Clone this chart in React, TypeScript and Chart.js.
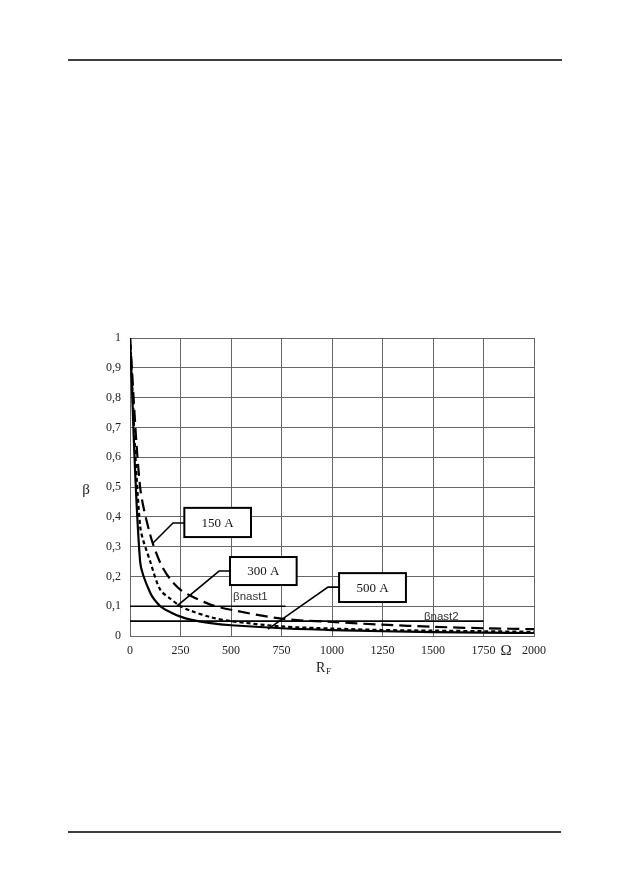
import React, { useEffect, useRef } from "react";
import { Chart, registerables } from "chart.js";

Chart.register(...registerables);

// Resistance R_F (Ω) sample points
const resistance = [0, 50, 100, 150, 200, 250, 300, 400, 500, 750, 1000, 1250, 1500, 1750, 2000];
// β for 150 A (long dashed)
const beta150 = [1, 0.5, 0.34, 0.245, 0.19, 0.155, 0.135, 0.105, 0.088, 0.058, 0.047, 0.038, 0.031, 0.026, 0.023];
// β for 300 A (short dashed)
const beta300 = [1, 0.37, 0.25, 0.155, 0.125, 0.1, 0.085, 0.063, 0.05, 0.032, 0.025, 0.02, 0.018, 0.016, 0.014];
// β for 500 A (solid)
const beta500 = [1, 0.25, 0.145, 0.1, 0.08, 0.065, 0.055, 0.043, 0.036, 0.026, 0.02, 0.016, 0.013, 0.011, 0.01];
// threshold lines
const nast1R = [0, 770];
const nast1 = [0.1, 0.1];
const nast2R = [0, 1750];
const nast2 = [0.05, 0.05];

const xTicks = [0, 250, 500, 750, 1000, 1250, 1500, 1750, 2000];
const yTicks = [0, 0.1, 0.2, 0.3, 0.4, 0.5, 0.6, 0.7, 0.8, 0.9, 1];

// Callouts in data units
const callouts = [
  { text: "150 A", box: [269, 599, 0.332, 0.43], lead: 0.379, elbow: 213, tip: [114, 0.312] },
  { text: "300 A", box: [495, 825, 0.171, 0.265], lead: 0.218, elbow: 441, tip: [233, 0.101] },
  { text: "500 A", box: [1035, 1366, 0.114, 0.211], lead: 0.164, elbow: 980, tip: [683, 0.023] },
];
const nastLabels = [
  { text: "βnast1", r: 510, b: 0.131 },
  { text: "βnast2", r: 1455, b: 0.064 },
];

const pts = (xs: number[], ys: number[]) => xs.map((x, i) => ({ x, y: ys[i] }));

const SERIF = "'Liberation Serif', 'Times New Roman', serif";
const SANS = "'Liberation Sans', Arial, sans-serif";

const decor = {
  id: "decor",
  afterDatasetsDraw(chart: any) {
    const ctx = chart.ctx as CanvasRenderingContext2D;
    const xs = chart.scales.x;
    const ys = chart.scales.y;
    const px = (v: number) => xs.getPixelForValue(v);
    const py = (v: number) => ys.getPixelForValue(v);
    ctx.save();
    ctx.fillStyle = "#333";
    ctx.font = `11.5px ${SANS}`;
    ctx.textAlign = "left";
    ctx.textBaseline = "middle";
    nastLabels.forEach((l) => ctx.fillText(l.text, px(l.r), py(l.b)));
    callouts.forEach((c) => {
      const x1 = px(c.box[0]);
      const x2 = px(c.box[1]);
      const y1 = py(c.box[3]);
      const y2 = py(c.box[2]);
      ctx.strokeStyle = "#000";
      ctx.lineWidth = 1.6;
      ctx.beginPath();
      ctx.moveTo(x1, py(c.lead));
      ctx.lineTo(px(c.elbow), py(c.lead));
      ctx.lineTo(px(c.tip[0]), py(c.tip[1]));
      ctx.stroke();
      ctx.fillStyle = "#fff";
      ctx.fillRect(x1, y1, x2 - x1, y2 - y1);
      ctx.lineWidth = 2;
      ctx.strokeRect(x1, y1, x2 - x1, y2 - y1);
      ctx.fillStyle = "#111";
      ctx.font = `13px ${SERIF}`;
      ctx.textAlign = "center";
      ctx.textBaseline = "middle";
      ctx.fillText(c.text, (x1 + x2) / 2, (y1 + y2) / 2 + 1);
    });
    ctx.restore();
  },
  afterDraw(chart: any) {
    const ctx = chart.ctx as CanvasRenderingContext2D;
    ctx.save();
    ctx.strokeStyle = "#000";
    ctx.lineWidth = 1.5;
    ctx.beginPath();
    ctx.moveTo(68, 60);
    ctx.lineTo(562, 60);
    ctx.moveTo(68, 832);
    ctx.lineTo(561, 832);
    ctx.stroke();
    ctx.fillStyle = "#222";
    ctx.textBaseline = "middle";
    ctx.textAlign = "center";
    ctx.font = `15px ${SERIF}`;
    ctx.fillText("β", 86, 490);
    ctx.textAlign = "left";
    ctx.font = `14px ${SERIF}`;
    ctx.fillText("R", 316, 668);
    ctx.font = `9px ${SERIF}`;
    ctx.fillText("F", 326, 672);
    ctx.font = `15px ${SERIF}`;
    ctx.textAlign = "center";
    ctx.fillText("Ω", 506, 651);
    ctx.restore();
  },
};

export default function App() {
  const ref = useRef<HTMLCanvasElement | null>(null);
  useEffect(() => {
    if (!ref.current) return;
    const curve = { borderColor: "#000", borderWidth: 2.2, pointRadius: 0, tension: 0.3, fill: false };
    const chart = new Chart(ref.current, {
      type: "line",
      data: {
        datasets: [
          { label: "150 A", data: pts(resistance, beta150), borderDash: [12, 6], ...curve },
          { label: "300 A", data: pts(resistance, beta300), borderDash: [4, 3], ...curve },
          { label: "500 A", data: pts(resistance, beta500), ...curve },
          { label: "βnast1", data: pts(nast1R, nast1), borderColor: "#000", borderWidth: 1.6, pointRadius: 0, fill: false },
          { label: "βnast2", data: pts(nast2R, nast2), borderColor: "#000", borderWidth: 1.6, pointRadius: 0, fill: false },
        ],
      },
      options: {
        responsive: false,
        animation: false,
        devicePixelRatio: 1,
        layout: { padding: { left: 90, top: 338, right: 95, bottom: 227 } },
        plugins: { legend: { display: false }, tooltip: { enabled: false } },
        scales: {
          x: {
            type: "linear",
            min: 0,
            max: 2000,
            afterFit: (s: any) => {
              s.height = 30;
            },
            afterBuildTicks: (s: any) => {
              s.ticks = xTicks.map((v) => ({ value: v }));
            },
            ticks: {
              maxRotation: 0,
              padding: 8,
              color: "#222",
              font: { family: SERIF, size: 12 },
              callback: (v: any) => String(v),
            },
            grid: { color: "#666", lineWidth: 1, drawTicks: false },
            border: { color: "#666" },
          },
          y: {
            type: "linear",
            min: 0,
            max: 1,
            afterFit: (s: any) => {
              s.width = 40;
            },
            afterBuildTicks: (s: any) => {
              s.ticks = yTicks.map((v) => ({ value: v }));
            },
            ticks: {
              padding: 9,
              color: "#222",
              font: { family: SERIF, size: 12 },
              callback: (v: any) => {
                const n = Math.round(Number(v) * 10) / 10;
                if (n === 0) return "0";
                if (n === 1) return "1";
                return n.toFixed(1).replace(".", ",");
              },
            },
            grid: { color: "#666", lineWidth: 1, drawTicks: false },
            border: { color: "#666" },
          },
        },
      },
      plugins: [decor],
    } as any);
    return () => chart.destroy();
  }, []);
  return (
    <div style={{ position: "absolute", left: 0, top: 0, width: 629, height: 893, background: "#fff" }}>
      <canvas ref={ref} width={629} height={893} style={{ display: "block", width: 629, height: 893 }} />
    </div>
  );
}
